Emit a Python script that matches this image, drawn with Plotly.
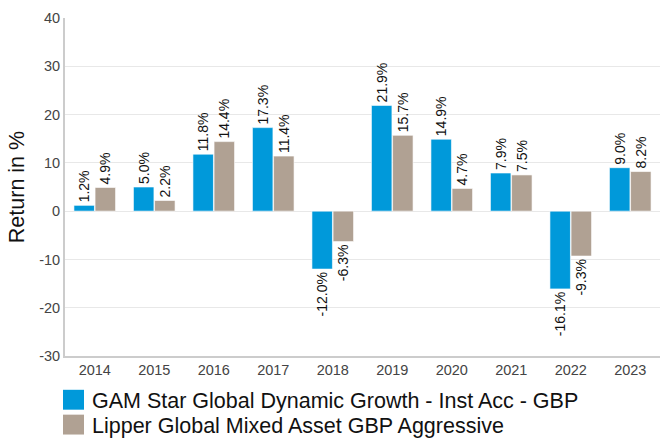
import plotly.graph_objects as go

years = ["2014", "2015", "2016", "2017", "2018", "2019", "2020", "2021", "2022", "2023"]
fund = [1.2, 5.0, 11.8, 17.3, -12.0, 21.9, 14.9, 7.9, -16.1, 9.0]
peer = [4.9, 2.2, 14.4, 11.4, -6.3, 15.7, 4.7, 7.5, -9.3, 8.2]
names = ["GAM Star Global Dynamic Growth - Inst Acc - GBP",
         "Lipper Global Mixed Asset GBP Aggressive"]
colors = ["#0099DA", "#B0A193"]
y_ticks = [-30, -20, -10, 0, 10, 20, 30, 40]
y_ticklabels = ["-30", "-20", "-10", "0", "10", "20", "30", "40"]

W, H = 670, 439
ml, mr, mt, mb = 65, 10, 16, 83
pw, ph = W - ml - mr, H - mt - mb

fig = go.Figure()
for vals, name, col in zip([fund, peer], names, colors):
    fig.add_trace(go.Bar(
        x=years, y=vals, name=name,
        marker=dict(color=col, line=dict(color="rgba(255,255,255,0.6)", width=1)),
        text=[f"{v:.1f}%" for v in vals], textposition="outside",
        textangle=-90, textfont=dict(size=14, color="#111"),
        constraintext="none",
        cliponaxis=False, showlegend=False,
    ))

font = "Liberation Sans, Arial, sans-serif"
fig.update_layout(
    width=W, height=H, margin=dict(l=ml, r=mr, t=mt, b=mb),
    paper_bgcolor="white", plot_bgcolor="white",
    barmode="group", bargap=0.29, bargroupgap=0.03,
    font=dict(family=font, size=14, color="#444"),
    xaxis=dict(showline=True, linecolor="#cccccc", linewidth=2, ticks="",
               tickfont=dict(size=14.5, color="#444"), showgrid=False),
    yaxis=dict(range=[-30, 40], tickvals=y_ticks, ticktext=y_ticklabels,
               showgrid=True, gridcolor="#e8e8e8",
               showline=True, linecolor="#cccccc", linewidth=2, zeroline=False,
               tickfont=dict(size=14.5, color="#444"), ticks="",
               title=dict(text="Return in %", font=dict(size=21.5, color="#111"), standoff=9)),
)

def px_x(x):
    return (x - ml) / pw

def px_y(y):
    return (mt + ph - y) / ph

rows = [(390, 410), (415, 435)]
for (y0, y1), name, col in zip(rows, names, colors):
    fig.add_shape(type="rect", xref="paper", yref="paper",
                  x0=px_x(63), x1=px_x(84), y0=px_y(y0), y1=px_y(y1),
                  fillcolor=col, line=dict(width=0))
    fig.add_annotation(xref="paper", yref="paper", x=px_x(90), y=px_y((y0 + y1) / 2 + 1),
                       text=name, showarrow=False, xanchor="left", yanchor="middle",
                       font=dict(size=21.5, color="#111", family=font))

fig.write_html("out.html", config={"displayModeBar": False},
               post_script="document.body.style.margin='0';document.body.style.overflow='hidden';")
